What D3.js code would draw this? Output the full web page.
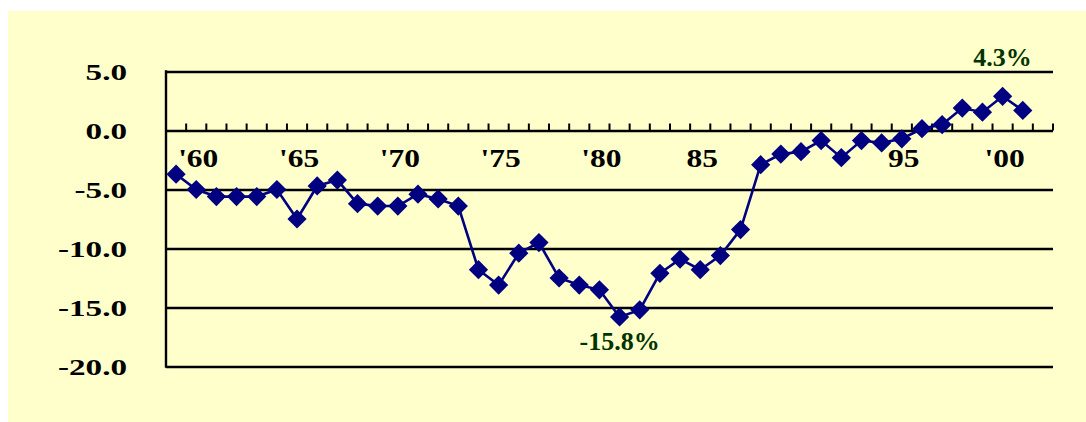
<!DOCTYPE html>
<html>
<head>
<meta charset="utf-8">
<script src="https://cdn.jsdelivr.net/npm/d3@7"></script>
<style>
	body { margin: 0; background: #ffffff; }
	svg text { font-family: "Liberation Serif", "Times New Roman", serif; font-weight: bold; }
</style>
</head>
<body>
<div id="chart"></div>
<script>
// years on the category axis (2002 is an empty slot at the right end)
const years = d3.range(1959, 2003)

// balance in % for 1959..2001
const values = [
	-3.7, -5.0, -5.6, -5.6, -5.6, -5.0, -7.5, -4.7, -4.2, -6.2,
	-6.4, -6.4, -5.4, -5.8, -6.4, -11.8, -13.1, -10.4, -9.5, -12.5,
	-13.1, -13.5, -15.8, -15.2, -12.1, -10.9, -11.8, -10.6, -8.4, -2.9,
	-2.0, -1.8, -0.85, -2.3, -0.85, -1.05, -0.7, 0.15, 0.5, 1.9,
	1.55, 2.9, 1.7
]

const yTicks = [5, 0, -5, -10, -15, -20]
const xTickYears = [1960, 1965, 1970, 1975, 1980, 1985, 1995, 2000]
const xTickLabels = ["'60", "'65", "'70", "'75", "'80", "85", "95", "'00"]

const notes = [
	{year: 2000, text: "4.3%", pos: "above"},
	{year: 1981, text: "-15.8%", pos: "below"}
]

var cfg = {
	w: 1086,
	h: 422,
	left: 166,
	right: 1053,
	top: 71.5,
	bottom: 366.5,
	lineColor: "#000080",
	noteColor: "#003300",
	bg: "#ffffcc"
}

var svg = d3.select("#chart")
	.append("svg")
	.attr("width", cfg.w)
	.attr("height", cfg.h)

// yellow panel
svg.append("rect")
	.attr("x", 8)
	.attr("y", 11)
	.attr("width", cfg.w - 8)
	.attr("height", cfg.h - 11)
	.attr("fill", cfg.bg)

var x = d3.scaleBand()
	.domain(years)
	.range([cfg.left, cfg.right])
	.padding(0)

var y = d3.scaleLinear()
	.domain([-20, 5])
	.range([cfg.bottom, cfg.top])

// gridlines + y labels
var yAxis = svg.append("g")
	.attr("transform", "translate(" + cfg.left + ",0)")
	.call(d3.axisLeft(y)
		.tickValues(yTicks)
		.tickSize(-(cfg.right - cfg.left))
		.tickPadding(0)
		.tickFormat(d => d.toFixed(1)))

yAxis.select(".domain").remove()
yAxis.selectAll(".tick line")
	.attr("stroke", "#000")
	.attr("stroke-width", 2.4)
yAxis.selectAll(".tick text")
	.attr("x", 0)
	.attr("dy", "0.34em")
	.attr("text-anchor", "end")
	.attr("fill", "#000")
	.style("font-size", "24px")
	.attr("transform", "translate(-39,0) scale(1.38,1)")

// vertical axis line
svg.append("line")
	.attr("x1", cfg.left).attr("x2", cfg.left)
	.attr("y1", y(5) - 1.2).attr("y2", y(-20) + 1.2)
	.attr("stroke", "#000")
	.attr("stroke-width", 2.4)

// category ticks on the zero line, pointing up, at band edges
var edges = years.map(d => x(d)).concat([cfg.right])
svg.append("g").selectAll("line")
	.data(edges)
	.join("line")
	.attr("x1", d => d).attr("x2", d => d)
	.attr("y1", y(0))
	.attr("y2", y(0) - 7)
	.attr("stroke", "#000")
	.attr("stroke-width", 2)

// x labels under the zero line
var xAxis = svg.append("g")
	.attr("transform", "translate(0," + y(0) + ")")
	.call(d3.axisBottom(x)
		.tickValues(xTickYears)
		.tickSize(0)
		.tickFormat(d => xTickLabels[xTickYears.indexOf(d)]))

xAxis.select(".domain").remove()
xAxis.selectAll(".tick text")
	.attr("y", 0)
	.attr("dy", 0)
	.attr("fill", "#000")
	.style("font-size", "25px")
	.attr("transform", "translate(2,36.5) scale(1.26,1)")

// series
var pts = values.map((v, i) => ({year: years[i], v: v}))

var line = d3.line()
	.x(d => x(d.year) + x.bandwidth() / 2)
	.y(d => y(d.v))

svg.append("path")
	.datum(pts)
	.attr("d", line)
	.attr("fill", "none")
	.attr("stroke", cfg.lineColor)
	.attr("stroke-width", 2.6)

var diamond = d3.symbol().type(d3.symbolSquare).size(185)
svg.append("g").selectAll("path")
	.data(pts)
	.join("path")
	.attr("d", diamond)
	.attr("transform", d => "translate(" + (x(d.year) + x.bandwidth() / 2) + "," + y(d.v) + ") rotate(45)")
	.attr("fill", cfg.lineColor)

// annotations
svg.append("g").selectAll("text")
	.data(notes)
	.join("text")
	.attr("x", d => x(d.year) + x.bandwidth() / 2)
	.attr("y", d => {
		var p = pts.find(e => e.year === d.year)
		return d.pos === "above" ? y(p.v) - 30.5 : y(p.v) + 33
	})
	.attr("text-anchor", "middle")
	.attr("fill", cfg.noteColor)
	.style("font-size", "26px")
	.text(d => d.text)
</script>
</body>
</html>
